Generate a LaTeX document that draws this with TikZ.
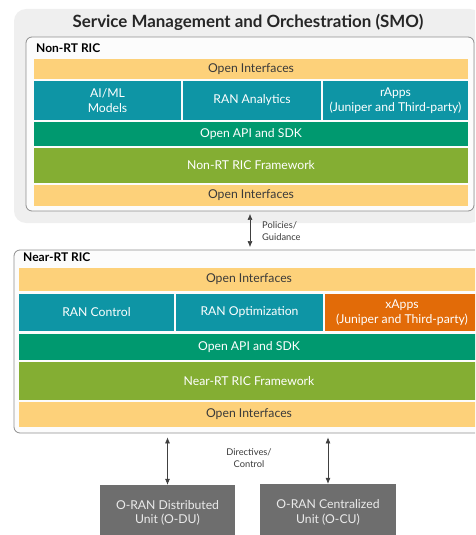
\documentclass[tikz,border=0pt]{standalone}
\usepackage{fontspec}
\setmainfont{Lato}
\usepackage{tikz}
\usetikzlibrary{arrows.meta,positioning}
\definecolor{smogray}{HTML}{EFEFEF}
\definecolor{framegray}{HTML}{8E8E8E}
\definecolor{ifyellow}{HTML}{FDD17A}
\definecolor{appteal}{HTML}{0E95A5}
\definecolor{apigreen}{HTML}{00996F}
\definecolor{fwolive}{HTML}{84AE33}
\definecolor{xorange}{HTML}{E26B08}
\definecolor{unitgray}{HTML}{6E6E6E}
\definecolor{darktext}{HTML}{3A3A3A}
\tikzset{
    layer/.style = {inner sep = 0pt, align = center, font = \fontsize{12.2}{14.5}\selectfont},
    iface/.style = {layer, fill = ifyellow, text = darktext},
    appcell/.style = {layer, fill = appteal, text = white},
    apirow/.style = {layer, fill = apigreen, text = white},
    fwrow/.style = {layer, fill = fwolive, text = white},
    unitbox/.style = {layer, fill = unitgray, text = white!92!black},
    ricframe/.style = {draw = framegray, thick, rounded corners = 6pt, fill = white!99!black},
    riclabel/.style = {anchor = west, inner sep = 0pt, font = \fontsize{12}{14}\selectfont\bfseries},
    flowlabel/.style = {inner sep = 0pt, text = darktext, font = \fontsize{9.3}{12.5}\selectfont},
    flow/.style = {draw = black!75, semithick, {Latex[length=6pt,width=5pt]}-{Latex[length=6pt,width=5pt]}}
}
\begin{document}
\begin{tikzpicture}[x = 1pt, y = -1pt]
        \useasboundingbox (0,0) rectangle (475,535);
        \clip (0,0) rectangle (475,535);
        % SMO and the Non-RT RIC
        \path [fill = smogray, rounded corners = 12pt] (14,9) rectangle (482,223);
        \node (smotitle) at (248,22) [inner sep = 0pt, text = black!85, font = \fontsize{16.9}{19}\selectfont\bfseries] {Service Management and Orchestration (SMO)};
        \node (nonrt) at (250,124) [ricframe, minimum width = 448pt, minimum height = 174pt] {};
        \node (nonrtlabel) at (36,48) [riclabel] {Non-RT RIC};
        \node (oitop) at (251,69) [iface, minimum width = 434pt, minimum height = 20pt] {Open Interfaces};
        \node (aiml) at (107.5,100.5) [appcell, minimum width = 147pt, minimum height = 39pt] {AI/ML\\Models};
        \node (rananalytics) at (252,100.5) [appcell, minimum width = 138pt, minimum height = 39pt] {RAN Analytics};
        \node (rapps) at (395.5,100.5) [appcell, minimum width = 145pt, minimum height = 39pt] {rApps\\(Juniper and Third-party)};
        \node (apitop) at (251,134) [apirow, minimum width = 434pt, minimum height = 24pt] {Open API and SDK};
        \node (fwtop) at (251,165.5) [fwrow, minimum width = 434pt, minimum height = 35pt] {Non-RT RIC Framework};
        \node (oitopb) at (251,195.5) [iface, minimum width = 434pt, minimum height = 21pt] {Open Interfaces};
        % Near-RT RIC
        \node (nearrt) at (249.5,341.5) [ricframe, minimum width = 471pt, minimum height = 183pt] {};
        \node (nearrtlabel) at (23,257) [riclabel] {Near-RT RIC};
        \node (oinear) at (249,279.5) [iface, minimum width = 460pt, minimum height = 23pt] {Open Interfaces};
        \node (rancontrol) at (96.5,312.5) [appcell, minimum width = 155pt, minimum height = 37pt] {RAN Control};
        \node (ranopt) at (249.5,312.5) [appcell, minimum width = 147pt, minimum height = 37pt] {RAN Optimization};
        \node (xapps) at (402,312.5) [appcell, fill = xorange, minimum width = 154pt, minimum height = 37pt] {xApps\\(Juniper and Third-party)};
        \node (apinear) at (249,347) [apirow, minimum width = 460pt, minimum height = 26pt] {Open API and SDK};
        \node (fwnear) at (249,381) [fwrow, minimum width = 460pt, minimum height = 38pt] {Near-RT RIC Framework};
        \node (oinearb) at (249,414.5) [iface, minimum width = 460pt, minimum height = 25pt] {Open Interfaces};
        % radio units
        \node (odu) at (167.5,513) [unitbox, minimum width = 135pt, minimum height = 56pt] {O-RAN Distributed\\Unit (O-DU)};
        \node (ocu) at (328,512.5) [unitbox, minimum width = 136pt, minimum height = 57pt] {O-RAN Centralized\\Unit (O-CU)};
        % connectors
        \path [flow, shorten < = 2.5pt, shorten > = 2.5pt] (nonrt.south) -- (nearrt.north -| nonrt.south);
        \node (policies) at (262,231) [flowlabel, anchor = west, align = left] {Policies/\\Guidance};
        \path [flow, shorten < = 4pt] (nearrt.south -| odu.north) -- (odu.north);
        \path [flow, shorten < = 4pt] (nearrt.south -| ocu.north) -- (ocu.north);
        \node (directives) at (249,458) [flowlabel, align = center] {Directives/\\Control};
\end{tikzpicture}
\end{document}
